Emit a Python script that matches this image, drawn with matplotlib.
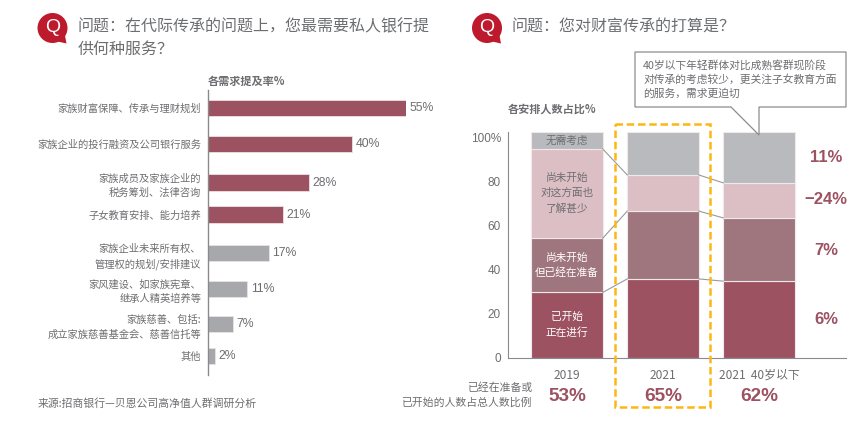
import matplotlib
matplotlib.use('Agg')
import matplotlib.pyplot as plt
from matplotlib.patches import Circle, Polygon, Rectangle
import numpy as np

plt.rcParams['font.family'] = ['Noto Sans CJK SC', 'DejaVu Sans']

W, H = 866, 443
GREY_TEXT = '#6d6e71'
MAROON = '#9c5261'
SANS = ['Liberation Sans', 'Noto Sans CJK SC']

# left chart
needs = ['家族财富保障、传承与理财规划', '家族企业的投行融资及公司银行服务',
         '家族成员及家族企业的\n税务筹划、法律咨询', '子女教育安排、能力培养',
         '家族企业未来所有权、\n管理权的规划/安排建议', '家风建设、如家族宪章、\n继承人精英培养等',
         '家族慈善、包括:\n成立家族慈善基金会、慈善信托等', '其他']
need_rates = [55, 40, 28, 21, 17, 11, 7, 2]
need_colors = [MAROON] * 4 + ['#a7a8ac'] * 4
need_rows = [108, 144, 182.5, 214.5, 253, 289, 324, 356]

# right chart
years = ['2019', '2021', '2021  40岁以下']
started = [29, 35, 34]
preparing = [24, 30, 28]
unaware = [39.5, 16, 15.5]
no_need = [7.5, 19, 22.5]
stack_colors = [MAROON, '#a0767e', '#dcbec5', '#b9babd']
stack_names = ['已开始\n正在进行', '尚未开始\n但已经在准备', '尚未开始\n对这方面也\n了解甚少', '无需考虑']
name_colors = ['white', 'white', GREY_TEXT, GREY_TEXT]
total_share = ['53%', '65%', '62%']
changes = ['6%', '7%', '−24%', '11%']
y_ticks = [0, 20, 40, 60, 80, 100]
y_labels = ['0', '20', '40', '60', '80', '100%']


def rect(x0, y0, x1, y1):
    return [x0 / W, 1 - y1 / H, (x1 - x0) / W, (y1 - y0) / H]


def put(x, y, s, **kw):
    kw.setdefault('color', GREY_TEXT)
    kw.setdefault('va', 'center')
    fig.text(x / W, 1 - y / H, s, **kw)


fig = plt.figure(figsize=(W / 100, H / 100), dpi=100)

# ---- bars on the left
ax1 = fig.add_axes(rect(207.5, 90, 406, 375))
ax1.barh(need_rows, need_rates, height=16.5, color=need_colors, edgecolor='#e9e2e4', linewidth=0.6)
ax1.set_xlim(0, 55)
ax1.set_ylim(375, 90)
ax1.set_yticks(need_rows)
ax1.set_yticklabels(needs, fontsize=7.4, color=GREY_TEXT, linespacing=1.5)
for t in ax1.get_yticklabels():
    t.set_multialignment('right')
ax1.tick_params(axis='y', length=0, pad=4.5)
ax1.xaxis.set_visible(False)
for s in ['top', 'right', 'bottom']:
    ax1.spines[s].set_visible(False)
ax1.spines['left'].set_color('#8a8a8a')
ax1.spines['left'].set_linewidth(1)
ax1.patch.set_alpha(0)
for row, rate in zip(need_rows, need_rates):
    ax1.annotate(f'{rate}%', (rate, row), xytext=(2.5, 0), textcoords='offset points', va='center', ha='left',
                 fontsize=8.8, color=GREY_TEXT, family=SANS)

# ---- stacks on the right
ax2 = fig.add_axes(rect(508, 132, 846, 358))
xs = np.arange(len(years))
segments = [started, preparing, unaware, no_need]
bottom = np.zeros(len(years))
edges = []
for seg, col in zip(segments, stack_colors):
    ax2.bar(xs, seg, 0.745, bottom=bottom, color=col, edgecolor='#efe9ea', linewidth=0.8)
    bottom = bottom + np.array(seg)
    edges.append(bottom.copy())

half = 0.745 / 2
for level in edges[:3]:
    for i in range(len(xs) - 1):
        ax2.plot([xs[i] + half, xs[i + 1] - half], [level[i], level[i + 1]], color='#9a9a9a', lw=0.8)

low = 0
for seg, name, col in zip(segments, stack_names, name_colors):
    ax2.text(xs[0], low + seg[0] / 2, name, ha='center', va='center', fontsize=7.7, color=col, linespacing=1.6)
    low += seg[0]

ax2.set_xlim(-59 / 96, 279 / 96)
ax2.set_ylim(0, 100)
ax2.set_xticks(xs)
ax2.set_xticklabels(years, fontsize=8.6, color=GREY_TEXT)
ax2.tick_params(axis='x', length=0, pad=8)
# tick labels in the original sit on a slightly tighter scale than the bars
ax2.set_yticks(np.array(y_ticks) * 220 / 226)
ax2.set_yticklabels(y_labels, fontsize=8.5, color=GREY_TEXT, family=SANS)
ax2.tick_params(axis='y', length=0, pad=5)
for s in ['top', 'right']:
    ax2.spines[s].set_visible(False)
ax2.spines['left'].set_color('#8a8a8a')
ax2.spines['bottom'].set_color('#8a8a8a')
ax2.patch.set_alpha(0)

for x, share in zip(xs, total_share):
    ax2.annotate(share, (x, 0), xytext=(0, -38.5 / 1.389), textcoords='offset points', ha='center', va='center',
                 fontsize=13.7, fontweight='bold', color=MAROON, family=SANS)

for y_px, txt in zip([320, 250, 200, 157], changes):
    put(826, y_px, txt, ha='center', fontsize=12, fontweight='bold', color=MAROON, family=SANS)

# ---- overlay in pixel coordinates for icons, callout, highlight
ov = fig.add_axes([0, 0, 1, 1])
ov.set_xlim(0, W)
ov.set_ylim(H, 0)
ov.axis('off')
ov.patch.set_alpha(0)

for cx in [52.5, 487]:
    ov.add_patch(Circle((cx, 28), 15, color='#bd1a2d', lw=0))
    ov.add_patch(Polygon([(cx + 3, 41), (cx + 14, 43.5), (cx + 12, 33)], color='#bd1a2d', lw=0))
    ov.text(cx, 27.5, 'Q', color='white', fontsize=14, ha='center', va='center', family=SANS)

ov.add_patch(Rectangle((615, 123.5), 95, 283, fill=False, edgecolor='#fdb714', lw=1.8, ls=(0, (3, 1.5))))

ov.add_patch(Polygon([(635, 52), (846, 52), (846, 107), (759, 107), (759, 135), (731, 107), (635, 107)],
                     closed=True, facecolor='white', edgecolor='#8c8c8c', lw=0.9))

# ---- texts
put(78, 27, '问题：在代际传承的问题上，您最需要私人银行提', fontsize=11.5)
put(78, 49, '供何种服务？', fontsize=11.5)
put(512, 27, '问题：您对财富传承的打算是？', fontsize=11.5)
put(208, 81, '各需求提及率%', fontsize=8, fontweight='bold')
put(508, 109, '各安排人数占比%', fontsize=8, fontweight='bold')
put(38, 403, '来源:招商银行—贝恩公司高净值人群调研分析', fontsize=7.8)
put(532, 388, '已经在准备或', ha='right', fontsize=7.8)
put(532, 403, '已开始的人数占总人数比例', ha='right', fontsize=7.8)
put(643, 65, '40岁以下年轻群体对比成熟客群现阶段', fontsize=7.75)
put(643, 79.5, '对传承的考虑较少，更关注子女教育方面', fontsize=7.75)
put(643, 94, '的服务，需求更迫切', fontsize=7.75)

fig.savefig('out.png', dpi=100, facecolor='white')
